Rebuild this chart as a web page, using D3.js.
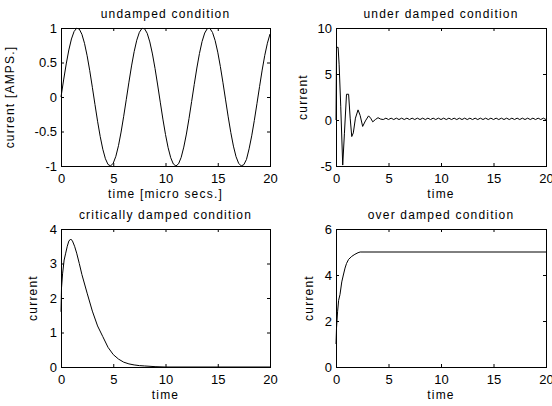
<!DOCTYPE html>
<html>
<head>
<meta charset="utf-8">
<script src="https://cdn.jsdelivr.net/npm/d3@7"></script>
<style>
  body { margin: 0; background: #fff; }
  svg { display: block; }
  text { font-family: "Liberation Sans", Arial, sans-serif; fill: #000; }
  .tick text { font-size: 13px; }
  .lbl { font-size: 12px; letter-spacing: 1.2px; }
</style>
</head>
<body>
<div id="chart"></div>
<script>
// time samples and current values
var undampedT = d3.range(0, 81).map(function (i) { return i * 0.25; });
var undampedV = [
  0, 0.247, 0.479, 0.682, 0.841, 0.949, 0.997, 0.984, 0.909, 0.778, 0.598, 0.382, 0.141,
  -0.108, -0.351, -0.572, -0.757, -0.895, -0.978, -0.999, -0.959, -0.859, -0.706, -0.508,
  -0.279, -0.033, 0.215, 0.45, 0.657, 0.823, 0.938, 0.995, 0.989, 0.923, 0.798, 0.624,
  0.412, 0.174, -0.075, -0.32, -0.544, -0.735, -0.88, -0.971, -1.0, -0.968, -0.875, -0.726,
  -0.537, -0.312, -0.066, 0.182, 0.42, 0.631, 0.804, 0.927, 0.991, 0.994, 0.935, 0.818,
  0.65, 0.441, 0.206, -0.042, -0.288, -0.516, -0.712, -0.865, -0.961, -0.999, -0.98,
  -0.904, -0.751, -0.563, -0.34, -0.097, 0.15, 0.39, 0.604, 0.779, 0.913
];

var underT = [
  0, 0.05, 0.2, 0.3, 0.45, 0.64, 0.8, 1.0, 1.2, 1.35, 1.5, 1.65, 1.85, 2.1, 2.3, 2.54,
  2.8, 3.1, 3.3, 3.5, 3.75, 4.0, 4.25,
  4.5, 4.75, 5, 5.25, 5.5, 5.75, 6, 6.25, 6.5, 6.75, 7, 7.25, 7.5, 7.75, 8, 8.25, 8.5,
  8.75, 9, 9.25, 9.5, 9.75, 10, 10.25, 10.5, 10.75, 11, 11.25, 11.5, 11.75, 12, 12.25,
  12.5, 12.75, 13, 13.25, 13.5, 13.75, 14, 14.25, 14.5, 14.75, 15, 15.25, 15.5, 15.75,
  16, 16.25, 16.5, 16.75, 17, 17.25, 17.5, 17.75, 18, 18.25, 18.5, 18.75, 19, 19.25,
  19.5, 19.75, 20
];
var underV = [
  0, 7.9, 7.9, 6.0, 1.5, -4.9, -1.5, 2.8, 2.8, 0.2, -1.8, -1.4, 0.2, 1.1, 0.5, -0.7,
  -0.1, 0.45, 0.2, -0.2, 0.05, 0.25, 0.1,
  0.05, 0.2, 0.05, 0.2, 0.05, 0.2, 0.05, 0.2, 0.05, 0.2, 0.05, 0.2, 0.05, 0.2, 0.05,
  0.2, 0.05, 0.2, 0.05, 0.2, 0.05, 0.2, 0.05, 0.2, 0.05, 0.2, 0.05, 0.2, 0.05, 0.2,
  0.05, 0.2, 0.05, 0.2, 0.05, 0.2, 0.05, 0.2, 0.05, 0.2, 0.05, 0.2, 0.05, 0.2, 0.05,
  0.2, 0.05, 0.2, 0.05, 0.2, 0.05, 0.2, 0.05, 0.2, 0.05, 0.2, 0.05, 0.2, 0.05, 0.2,
  0.05, 0.2, 0.05, 0.2
];

var criticalT = [
  0, 0.05, 0.15, 0.3, 0.45, 0.6, 0.75, 0.93, 1.1, 1.3, 1.5, 1.75, 2.0, 2.5, 3.0, 3.5,
  4.0, 4.5, 5.0, 5.5, 6.0, 6.5, 7.0, 7.5, 8.0, 9.0, 10, 20
];
var criticalV = [
  1.6, 2.3, 2.7, 3.1, 3.3, 3.5, 3.65, 3.71, 3.65, 3.5, 3.3, 3.0, 2.68, 2.14, 1.62, 1.19,
  0.88, 0.57, 0.36, 0.23, 0.14, 0.09, 0.06, 0.04, 0.03, 0.01, 0, 0
];

var overT = [0, 0.05, 0.15, 0.25, 0.38, 0.55, 0.7, 0.86, 1.0, 1.2, 1.5, 1.8, 2.1, 2.3, 20];
var overV = [1.0, 1.7, 2.4, 2.9, 3.15, 3.7, 4.0, 4.3, 4.5, 4.68, 4.81, 4.9, 4.97, 5.0, 5.0];

var xTicks = [0, 5, 10, 15, 20];

var svg = d3
  .select("#chart")
  .append("svg")
  .attr("width", 552)
  .attr("height", 406);

// plain number labels with a hyphen minus, like the original
function fmt(d) {
  return String(d);
}

function drawPanel(p) {
  var x = d3.scaleLinear().domain([0, 20]).range([p.left, p.right]);
  var y = d3.scaleLinear().domain(p.yDomain).range([p.bottom, p.top]);
  var w = p.right - p.left,
    h = p.bottom - p.top;

  var g = svg.append("g");

  // inward ticks on all four sides
  g.append("g")
    .attr("transform", "translate(0," + p.bottom + ")")
    .call(d3.axisBottom(x).tickValues(xTicks).tickFormat(fmt).tickSize(-3).tickSizeOuter(0).tickPadding(8))
    .call(function (a) { a.select(".domain").remove(); });
  g.append("g")
    .attr("transform", "translate(0," + p.top + ")")
    .call(d3.axisTop(x).tickValues(xTicks).tickSize(-3).tickSizeOuter(0).tickFormat(""))
    .call(function (a) { a.select(".domain").remove(); });
  g.append("g")
    .attr("transform", "translate(" + p.left + ",0)")
    .call(d3.axisLeft(y).tickValues(p.yTicks).tickFormat(fmt).tickSize(-3).tickSizeOuter(0).tickPadding(4))
    .call(function (a) { a.select(".domain").remove(); });
  g.append("g")
    .attr("transform", "translate(" + p.right + ",0)")
    .call(d3.axisRight(y).tickValues(p.yTicks).tickSize(-3).tickSizeOuter(0).tickFormat(""))
    .call(function (a) { a.select(".domain").remove(); });

  g.selectAll(".tick text").attr("font-family", null).attr("font-size", null);

  g.append("rect")
    .attr("x", p.left)
    .attr("y", p.top)
    .attr("width", w)
    .attr("height", h)
    .attr("fill", "none")
    .attr("stroke", "#000")
    .attr("shape-rendering", "crispEdges");

  g.append("path")
    .datum(d3.range(p.t.length))
    .attr("fill", "none")
    .attr("stroke", "#000")
    .attr("stroke-width", 1)
    .attr(
      "d",
      d3
        .line()
        .x(function (i) { return x(p.t[i]); })
        .y(function (i) { return y(p.v[i]); })
    );

  g.append("text")
    .attr("class", "lbl")
    .attr("x", (p.left + p.right) / 2)
    .attr("y", p.top - 10)
    .attr("text-anchor", "middle")
    .text(p.title);

  g.append("text")
    .attr("class", "lbl")
    .attr("x", (p.left + p.right) / 2)
    .attr("y", p.bottom + 32)
    .attr("text-anchor", "middle")
    .text(p.xLabel);

  g.append("text")
    .attr("class", "lbl")
    .attr("transform", "translate(" + p.yLabelX + "," + (p.top + p.bottom) / 2 + ") rotate(-90)")
    .attr("dy", "0.35em")
    .attr("text-anchor", "middle")
    .text(p.yLabel);
}

drawPanel({
  left: 61, right: 270, top: 28, bottom: 166,
  yDomain: [-1, 1], yTicks: [-1, -0.5, 0, 0.5, 1],
  t: undampedT, v: undampedV,
  title: "undamped condition", xLabel: "time [micro secs.]", yLabel: "current [AMPS.]",
  yLabelX: 10
});
drawPanel({
  left: 336, right: 546, top: 28, bottom: 166,
  yDomain: [-5, 10], yTicks: [-5, 0, 5, 10],
  t: underT, v: underV,
  title: "under damped condition", xLabel: "time", yLabel: "current",
  yLabelX: 303
});
drawPanel({
  left: 61, right: 270, top: 229, bottom: 367,
  yDomain: [0, 4], yTicks: [0, 1, 2, 3, 4],
  t: criticalT, v: criticalV,
  title: "critically damped condition", xLabel: "time", yLabel: "current",
  yLabelX: 33
});
drawPanel({
  left: 336, right: 546, top: 229, bottom: 367,
  yDomain: [0, 6], yTicks: [0, 2, 4, 6],
  t: overT, v: overV,
  title: "over damped condition", xLabel: "time", yLabel: "current",
  yLabelX: 309
});
</script>
</body>
</html>
